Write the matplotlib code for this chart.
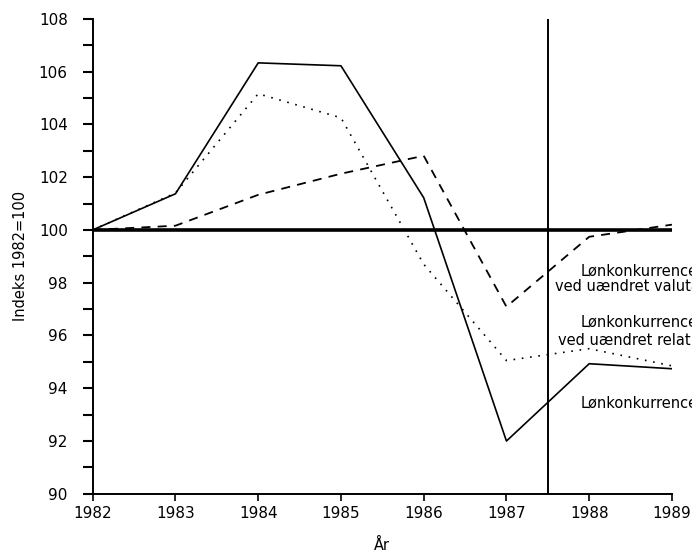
import numpy as np
import matplotlib as mpl
mpl.use('Agg')
import matplotlib.pyplot as plt

years = [1982, 1983, 1984, 1985, 1986, 1987, 1988, 1989]

# Lønkonkurrence (solid)
lon = [100.0, 101.37, 106.33, 106.22, 101.22, 92.0, 94.93, 94.74]
# ved uændret relativ ... (dotted)
lon_relativ = [100.0, 101.4, 105.16, 104.25, 98.7, 95.05, 95.5, 94.85]
# ved uændret valuta (dashed)
lon_valuta = [100.0, 100.16, 101.33, 102.13, 102.81, 97.09, 99.74, 100.2]

base_value = 100
divider_year = 1987.5

label_lines = [
    (1987.9, 98.45, 'Lønkonkurrence'),
    (1987.59, 97.85, 'ved uændret valuta'),
    (1987.9, 96.5, 'Lønkonkurrence'),
    (1987.62, 95.8, 'ved uændret relativ'),
    (1987.9, 93.45, 'Lønkonkurrence'),
]

fig = plt.figure(figsize=(6.92, 5.53), dpi=100)
ax = fig.add_axes([0.134, 0.107, 0.837, 0.859])

ax.plot(years, lon, color='black', linewidth=1.2, linestyle='-')
ax.plot(years, lon_relativ, color='black', linewidth=1.2, linestyle=(0, (1, 4)))
ax.plot(years, lon_valuta, color='black', linewidth=1.3, linestyle=(0, (5, 4)))

# reference line at 100 and the divider
ax.plot([years[0], years[-1]], [base_value, base_value], color='black',
        linewidth=2.6, solid_capstyle='butt')
ax.plot([divider_year, divider_year], [90, 108], color='black', linewidth=1.4)

for x, y, txt in label_lines:
    ax.text(x, y, txt, ha='left', va='center', fontsize=10.5, clip_on=False)

ax.set_xlim(1982, 1989)
ax.set_ylim(90, 108)
ax.set_xticks(years)
ax.set_yticks(np.arange(90, 109, 2))
ax.set_yticks(np.arange(91, 108, 2), minor=True)

for side in ['top', 'right']:
    ax.spines[side].set_visible(False)
for side in ['left', 'bottom']:
    ax.spines[side].set_linewidth(1.4)

ax.tick_params(axis='y', which='both', direction='out', length=7, width=1.5,
               labelsize=11, pad=11)
ax.tick_params(axis='x', which='major', direction='out', length=5, width=1.2,
               labelsize=11, pad=4)

ax.set_xlabel('År', fontsize=10.5, labelpad=12)
ax.set_ylabel('Indeks 1982=100', fontsize=10.5, labelpad=8)

fig.savefig('out.png', dpi=100)
plt.close(fig)
